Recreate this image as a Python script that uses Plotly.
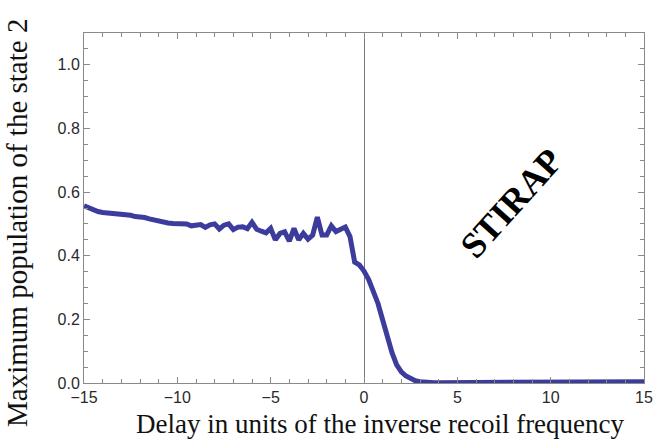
import plotly.graph_objects as go

# Delay grid (units of inverse recoil frequency), step 0.25 from -15 to 15
delay = [-15 + 0.25 * i for i in range(121)]

# Maximum population of state 2
population = [
    0.557, 0.550, 0.544, 0.539, 0.536, 0.535, 0.534, 0.533, 0.532, 0.530,
    0.527, 0.523, 0.522, 0.520, 0.516, 0.512, 0.508, 0.505, 0.503, 0.501,
    0.500, 0.499, 0.500, 0.494, 0.497,
    0.498, 0.489, 0.497, 0.500, 0.484, 0.496, 0.500, 0.482, 0.490, 0.491,
    0.485, 0.505, 0.483, 0.477, 0.472, 0.486, 0.450, 0.470, 0.475, 0.446,
    0.486, 0.450, 0.470, 0.452, 0.465, 0.521, 0.465, 0.465, 0.494, 0.476,
    0.483, 0.490, 0.460, 0.380, 0.371,
    0.352, 0.325, 0.290, 0.250, 0.198, 0.146, 0.095, 0.057, 0.035, 0.022,
    0.013, 0.007, 0.004, 0.002, 0.001,
    0.001, 0.001, 0.001, 0.001, 0.001, 0.001, 0.001, 0.001, 0.001, 0.001,
    0.001, 0.001, 0.001, 0.001, 0.001, 0.001, 0.001, 0.001, 0.001, 0.001,
    0.001, 0.001, 0.001, 0.001, 0.001, 0.001, 0.001, 0.001, 0.001, 0.001,
    0.001, 0.001, 0.001, 0.001,
    0.001, 0.001, 0.0015, 0.0015, 0.002, 0.002, 0.0025, 0.0025, 0.003, 0.003,
    0.0035, 0.004,
]

x_ticks = [-15, -10, -5, 0, 5, 10, 15]
y_ticks = [0.0, 0.2, 0.4, 0.6, 0.8, 1.0]

fig = go.Figure()
fig.add_trace(go.Scatter(
    x=delay, y=population, mode="lines",
    line=dict(color="#3c3c9c", width=5),
    showlegend=False,
))

frame = "#8a8a8a"
tickfont = dict(family="Liberation Sans, Arial, sans-serif", size=16, color="#2a2a2a")

fig.update_xaxes(
    range=[-15, 15], tickvals=x_ticks,
    showline=True, linecolor=frame, linewidth=1, mirror="ticks",
    ticks="inside", ticklen=6, tickcolor=frame,
    minor=dict(dtick=1, ticks="inside", ticklen=4, tickcolor=frame, showgrid=False),
    showgrid=False, zeroline=True, zerolinecolor="#777777", zerolinewidth=1,
    tickfont=tickfont,
)
fig.update_yaxes(
    range=[0, 1.1], tickvals=y_ticks, tickformat=".1f",
    showline=True, linecolor=frame, linewidth=1, mirror="ticks",
    ticks="inside", ticklen=6, tickcolor=frame,
    minor=dict(dtick=0.05, ticks="inside", ticklen=4, tickcolor=frame, showgrid=False),
    showgrid=False, zeroline=False,
    tickfont=tickfont,
)

serif = "Liberation Serif, Times New Roman, serif"
fig.add_annotation(
    text="Delay in units of the inverse recoil frequency",
    xref="paper", yref="paper", x=0.530, y=-0.116,
    xanchor="center", yanchor="middle", showarrow=False,
    font=dict(family=serif, size=27, color="#111111"),
)
fig.add_annotation(
    text="Maximum population of the state 2",
    xref="paper", yref="paper", x=-0.121, y=0.458,
    xanchor="center", yanchor="middle", showarrow=False, textangle=-90,
    font=dict(family=serif, size=29, color="#111111"),
)
fig.add_annotation(
    text="<b>STIRAP</b>",
    xref="x", yref="y", x=7.9, y=0.567,
    xanchor="center", yanchor="middle", showarrow=False, textangle=-48,
    font=dict(family=serif, size=36, color="#000000"),
)

fig.update_layout(
    width=665, height=447,
    margin=dict(l=84, r=12, t=33, b=64),
    plot_bgcolor="white", paper_bgcolor="white",
)

# remove the default 8px page margin so the figure fills the window
fig.write_html(
    "out.html",
    config={"displayModeBar": False},
    post_script="document.body.style.margin='0';",
)
